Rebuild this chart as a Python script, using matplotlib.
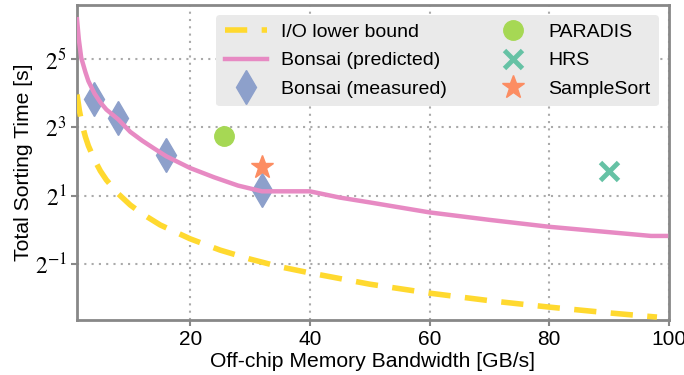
import math
import matplotlib
matplotlib.use("Agg")
import matplotlib.pyplot as plt
from matplotlib.ticker import FixedLocator, FuncFormatter, NullLocator

plt.rcParams['font.family'] = ['Liberation Sans', 'DejaVu Sans']
plt.rcParams['mathtext.fontset'] = 'stix'

# I/O lower bound
lb_x = [1.1, 1.5, 2, 2.5, 3, 4, 5, 6, 8, 10, 12, 15, 20, 25, 30, 35, 40, 50, 60, 70, 80, 90, 98]
lb_y = [15.6, 11.2, 8.3, 6.6, 5.5, 4.15, 3.3, 2.75, 2.07, 1.65, 1.38, 1.1, 0.83, 0.66, 0.55, 0.47, 0.415, 0.33, 0.275, 0.236, 0.207, 0.184, 0.169]

# Bonsai predicted
bp_x = [1.1, 1.4, 1.8, 2.5, 3, 4, 5, 6, 8, 10, 12, 14, 16, 20, 24, 28, 32, 36, 40, 45, 50, 60, 70, 80, 90, 97, 99.5]
bp_y = [72, 48, 33, 24.6, 20.5, 16, 13.3, 11.5, 9.4, 7.3, 6.1, 5.2, 4.45, 3.5, 2.9, 2.45, 2.18, 2.18, 2.18, 1.92, 1.74, 1.42, 1.22, 1.06, 0.95, 0.88, 0.88]

# Bonsai measured
bm_x = [4, 8, 16, 32]
bm_y = [14.2, 9.7, 4.55, 2.26]

# Other systems
paradis_x, paradis_y = [25.7], [6.7]
hrs_x, hrs_y = [90], [3.3]
ss_x, ss_y = [32], [3.59]

yticks = [0.5, 2, 8, 32]
xticks = [20, 40, 60, 80, 100]

fig = plt.figure(figsize=(6.84, 3.75), dpi=100)
ax = fig.add_axes([0.1126, 0.1467, 0.978 - 0.1126, 0.9867 - 0.1467])

ax.plot(lb_x, lb_y, color='#ffd92f', lw=4, dashes=(4, 2.6), label='I/O lower bound', zorder=3)
ax.plot(bp_x, bp_y, color='#e78ac3', lw=3.2, label='Bonsai (predicted)', zorder=3)
ax.plot(bm_x, bm_y, 'd', color='#8da0cb', markersize=17, ls='none', label='Bonsai (measured)', zorder=2)
ax.plot(paradis_x, paradis_y, 'o', color='#a6d854', markersize=14, ls='none', label='PARADIS', zorder=4)
ax.plot(hrs_x, hrs_y, 'x', color='#66c2a5', markersize=13, mew=3.5, ls='none', label='HRS', zorder=4)
ax.plot(ss_x, ss_y, '*', color='#fc8d62', markersize=17, ls='none', label='SampleSort', zorder=4)

ax.set_yscale('log', base=2)
ax.set_xlim(1.1, 100)
ax.set_ylim(2 ** -2.65, 2 ** 6.59)
ax.yaxis.set_major_locator(FixedLocator(yticks))
ax.yaxis.set_minor_locator(NullLocator())
ax.yaxis.set_major_formatter(FuncFormatter(lambda v, p: r'$2^{%d}$' % round(math.log2(v))))
ax.set_xticks(xticks)

ax.grid(True, ls=(0, (1, 2.5)), color='#aaaaaa', lw=1.5)
for s in ax.spines.values():
    s.set_color('#888888')
    s.set_linewidth(2)
ax.tick_params(axis='both', colors='#888888', labelcolor='black', width=1.5, length=4, labelsize=15)
ax.tick_params(axis='y', labelsize=17)

ax.set_xlabel('Off-chip Memory Bandwidth [GB/s]', fontsize=15.2, labelpad=2)
ax.set_ylabel('Total Sorting Time [s]', fontsize=15.2, labelpad=1)

leg = ax.legend(ncol=2, loc='upper right', fontsize=14, frameon=True, facecolor='#eaeaea',
                edgecolor='none', framealpha=1, borderaxespad=0.5, columnspacing=2.3,
                handlelength=2.15, handletextpad=0.75, labelspacing=0.55, borderpad=0.45)

fig.savefig('out.png', dpi=100)
